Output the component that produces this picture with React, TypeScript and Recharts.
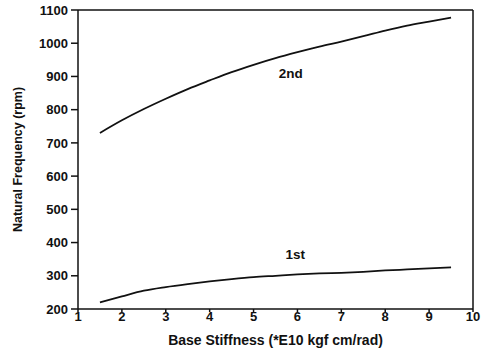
import {
  Label,
  Line,
  LineChart,
  ReferenceDot,
  ReferenceLine,
  XAxis,
  YAxis,
} from "recharts";

// base stiffness (*E10 kgf cm/rad)
const stiffness = [1.5, 2, 2.5, 3, 3.5, 4, 4.5, 5, 5.5, 6, 6.5, 7, 7.5, 8, 8.5, 9, 9.5];
// natural frequency (rpm)
const first = [220, 238, 255, 266, 275, 283, 290, 296, 300, 304, 307, 309, 312, 316, 319, 322, 325];
const second = [730, 768, 802, 833, 862, 888, 913, 935, 955, 973, 990, 1005, 1021, 1038, 1053, 1065, 1077];

const xTicks = [1, 2, 3, 4, 5, 6, 7, 8, 9, 10];
const yTicks = [200, 300, 400, 500, 600, 700, 800, 900, 1000, 1100];

const curveLabels = [
  { text: "1st", x: 5.95, y: 366 },
  { text: "2nd", x: 5.85, y: 910 },
];

const data = stiffness.map((k, i) => ({ k, first: first[i], second: second[i] }));

const font = "'Liberation Sans', Arial, Helvetica, sans-serif";
const ink = "#111";
const tickStyle = { fontSize: 13, fill: ink, fontFamily: font, fontWeight: 700 };

export default function App() {
  return (
    <div style={{ position: "absolute", left: 0, top: 0, background: "#fff" }}>
      <LineChart
        width={487}
        height={348}
        data={data}
        margin={{ top: 10, right: 14, bottom: 0, left: 0 }}
      >
        <XAxis
          dataKey="k"
          type="number"
          domain={[1, 10]}
          ticks={xTicks}
          allowDataOverflow
          height={39}
          tickSize={3}
          tickMargin={0}
          stroke={ink}
          strokeWidth={1.5}
          tick={tickStyle}
        >
          <Label
            value="Base Stiffness (*E10 kgf cm/rad)"
            position="insideBottom"
            offset={3}
            style={{ fontSize: 14, fill: ink, fontFamily: font, fontWeight: 700 }}
          />
        </XAxis>
        <YAxis
          type="number"
          domain={[200, 1100]}
          ticks={yTicks}
          allowDataOverflow
          width={78}
          tickSize={7}
          tickMargin={3}
          stroke={ink}
          strokeWidth={1.5}
          tick={tickStyle}
        >
          <Label
            value="Natural Frequency (rpm)"
            angle={-90}
            position="insideLeft"
            offset={18}
            style={{ fontSize: 12.5, fill: ink, fontFamily: font, fontWeight: 700, textAnchor: "middle" }}
          />
        </YAxis>
        <ReferenceLine y={1100} stroke={ink} strokeWidth={1.5} />
        <ReferenceLine x={10} stroke={ink} strokeWidth={1.5} />
        <Line
          dataKey="second"
          type="monotone"
          stroke={ink}
          strokeWidth={1.8}
          dot={false}
          isAnimationActive={false}
        />
        <Line
          dataKey="first"
          type="monotone"
          stroke={ink}
          strokeWidth={1.8}
          dot={false}
          isAnimationActive={false}
        />
        {curveLabels.map((c) => (
          <ReferenceDot
            key={c.text}
            x={c.x}
            y={c.y}
            r={0}
            fill="none"
            stroke="none"
            label={{
              value: c.text,
              position: "center",
              style: { fontSize: 13.5, fill: ink, fontFamily: font, fontWeight: 700 },
            }}
          />
        ))}
      </LineChart>
    </div>
  );
}
